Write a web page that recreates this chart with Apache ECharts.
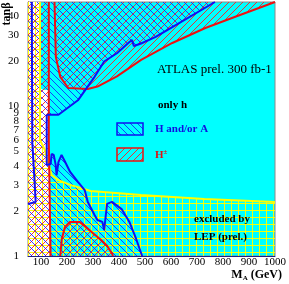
<!DOCTYPE html>
<html><head><meta charset="utf-8">
<script src="https://cdn.jsdelivr.net/npm/echarts@6/dist/echarts.min.js"></script>
<style>html,body{margin:0;padding:0;background:#fff}#c{width:289px;height:284px}</style>
</head><body><div id="c"></div>
<script>
// ---- axis ticks ----
const M_TICKS = [100, 200, 300, 400, 500, 600, 700, 800, 900, 1000];
const TANB_TICKS = [1, 2, 3, 4, 5, 6, 7, 8, 9, 10, 20, 30, 40];

// ---- boundaries [M_A (GeV), tan beta] ----
const haUpper = [[122,8.8],[167,8.8],[242,11.0],[306,15.8],[343,20.0],[392,22.7],[440,27.0],[450,27.8],[457,25.4],[485,26.4],[541,29.2],[605,34.0],[769,50]];
const haLower = [[122,4.06],[137,4.12],[141,4.81],[149,4.74],[156,4.12],[160,3.48],[167,4.25],[179,4.74],[193,4.25],[212,3.65],[242,3.13],[268,2.76],[280,2.30],[306,1.88],[317,1.74],[336,1.69],[343,1.49],[347,1.49],[354,2.23],[373,2.30],[410,2.06],[440,1.69],[466,1.30],[489,1]];
const haLeftLine = [[64.6,50],[66.4,5.79],[73.9,3.48],[79.5,2.30],[50,2.23]];
const hpUpper = [[152,50],[157,21.5],[174,15.8],[205,13.3],[280,13.1],[317,13.6],[392,15.9],[485,20.5],[605,26.6],[732,33.5],[855,40.3],[1000,50]];
const hpLeftLine = [[130,50],[130,6.0],[137,1]];
const hpDome = [[174,1],[180,1.3],[192,1.56],[211,1.69],[249,1.69],[273,1.56],[298,1.43],[329,1.29],[354,1.17],[373,1.04],[377,1]];
const lepCurve = [[96,50],[96,5.97],[115,5.12],[130,4.06],[141,3.48],[167,3.22],[212,2.99],[291,2.72],[485,2.56],[728,2.41],[1000,2.30]];
const lowMassBand = [[50,50],[96,50],[96,13.3],[108,12.9],[130,12.9],[134,2.37],[137,1],[50,1]];

const X_MIN = 50, X_MAX = 1000, T_MIN = 1, T_MAX = 50;

function hatch(kind, color, size) {
  const c = document.createElement('canvas');
  c.width = size; c.height = size;
  const g = c.getContext('2d');
  g.strokeStyle = color; g.lineWidth = 1;
  g.beginPath();
  if (kind === 'back') {
    for (let k = -1; k <= 1; k++) { g.moveTo(k*size - 1, -1); g.lineTo(k*size + size + 1, size + 1); }
  } else if (kind === 'fwd') {
    for (let k = -1; k <= 1; k++) { g.moveTo(k*size - 1, size + 1); g.lineTo(k*size + size + 1, -1); }
  } else {
    g.moveTo(0.5, 0); g.lineTo(0.5, size);
    g.moveTo(0, 0.5); g.lineTo(size, 0.5);
  }
  g.stroke();
  return c;
}
const pat = c => ({ image: c, repeat: 'repeat' });
const blueC = hatch('back', 'rgba(20,20,255,0.8)', 7);
const redC = hatch('fwd', 'rgba(255,30,30,0.9)', 7);
const yelC = hatch('grid', 'rgba(255,255,0,0.95)', 7);

const toLog = p => [p[0], Math.log10(p[1])];

function polys(list, fillFn) {
  const Ps = list.map(pts => pts.map(toLog));
  return {
    type: 'custom', coordinateSystem: 'cartesian2d', silent: true, animation: false, clip: false,
    data: [[300, 1]],
    renderItem: (params, api) => ({
      type: 'group',
      children: Ps.map(P => ({
        type: 'polygon',
        shape: { points: P.map(p => api.coord(p)) },
        style: { fill: fillFn(), stroke: null }
      }))
    })
  };
}
function line(pts, color, width) {
  return {
    type: 'line', data: pts.map(toLog), symbol: 'none', showSymbol: false, silent: true,
    animation: false, lineStyle: { color: color, width: width }
  };
}

const haPolygon = [[X_MIN, T_MAX]].concat(haUpper.slice().reverse(), haLower, [[X_MIN, T_MIN]]);
const hpLeftPolygon = [[X_MIN, T_MAX]].concat(hpLeftLine, [[X_MIN, T_MIN]]);
const lepPolygon = [[X_MIN, T_MAX]].concat(lepCurve, [[X_MAX, T_MIN], [X_MIN, T_MIN]]);

const SERIF = '"Liberation Serif","DejaVu Serif",serif';
const BLUE = '#1010f0', RED = '#ee1010', YEL = '#ffff00';

const chart = echarts.init(document.getElementById('c'), null, { renderer: 'canvas' });
chart.setOption({
  animation: false,
  backgroundColor: '#ffffff',
  grid: { left: 28, right: 6, top: 2, bottom: 28, show: true, backgroundColor: '#00ffff', borderColor: '#8a8a8a', borderWidth: 1 },
  xAxis: {
    type: 'value', min: X_MIN, max: X_MAX,
    axisLine: { show: true, lineStyle: { color: '#202080', width: 1 } },
    axisTick: { show: false },
    splitLine: { show: false },
    axisLabel: { customValues: M_TICKS, formatter: v => String(v), margin: 1, color: '#000', fontFamily: SERIF, fontSize: 11 }
  },
  yAxis: {
    type: 'value', min: 0, max: Math.log10(T_MAX),
    axisLine: { show: true, lineStyle: { color: '#c00000', width: 1 } },
    axisTick: { show: false },
    splitLine: { show: false },
    axisLabel: {
      customValues: TANB_TICKS.map(v => Math.log10(v)),
      formatter: v => String(Math.round(Math.pow(10, v))),
      margin: 9, color: '#000', fontFamily: SERIF, fontSize: 11
    }
  },
  series: [
    polys([lowMassBand], () => '#ffffff'),
    polys([lepPolygon], () => pat(yelC)),
    polys([hpLeftPolygon, hpUpper, hpDome], () => pat(redC)),
    polys([haPolygon], () => pat(blueC)),
    line(lepCurve, YEL, 2),
    line(hpLeftLine, RED, 2),
    line(hpUpper, RED, 2),
    line(hpDome, RED, 2),
    line(haLeftLine, BLUE, 2),
    line(haUpper, BLUE, 2),
    line([haUpper[0], haLower[0]], BLUE, 2),
    line(haLower, BLUE, 2)
  ],
  graphic: [
    { type: 'text', x: 157, y: 70, z: 100, style: { text: 'ATLAS prel. 300 fb-1', font: '13px ' + SERIF, fill: '#000', verticalAlign: 'middle' } },
    { type: 'text', x: 158, y: 105, z: 100, style: { text: 'only h', font: 'bold 11px ' + SERIF, fill: '#000', verticalAlign: 'middle' } },
    { type: 'rect', z: 100, shape: { x: 117, y: 123, width: 26, height: 12 }, style: { fill: pat(blueC), stroke: BLUE, lineWidth: 1.5 } },
    { type: 'text', x: 155, y: 129, z: 100, style: { text: 'H and/or A', font: 'bold 11px ' + SERIF, fill: '#1010e0', verticalAlign: 'middle' } },
    { type: 'rect', z: 100, shape: { x: 117, y: 148, width: 26, height: 13 }, style: { fill: pat(redC), stroke: RED, lineWidth: 1.5 } },
    { type: 'text', x: 155, y: 155, z: 100, style: { text: '{a|H}{b|±}', verticalAlign: 'middle', rich: { a: { font: 'bold 11px ' + SERIF, fill: '#e01010' }, b: { font: 'bold 7px ' + SERIF, fill: '#e01010', verticalAlign: 'top', padding: [0,0,6,0] } } } },
    { type: 'text', x: 194, y: 219, z: 100, style: { text: 'excluded by', font: 'bold 11px ' + SERIF, fill: '#000', verticalAlign: 'middle' } },
    { type: 'text', x: 194, y: 237.5, z: 100, style: { text: 'LEP (prel.)', font: 'bold 11px ' + SERIF, fill: '#000', verticalAlign: 'middle' } },
    { type: 'text', x: 282, y: 275, z: 100, style: { text: '{a|M}{b|A}{a| (GeV)}', align: 'right', verticalAlign: 'middle', rich: { a: { font: 'bold 12px ' + SERIF, fill: '#000' }, b: { font: 'bold 7px ' + SERIF, fill: '#000', padding: [6,0,0,0] } } } },
    { type: 'text', x: 7, y: 14, z: 100, rotation: Math.PI / 2, style: { text: 'tanβ', font: 'bold 12px ' + SERIF, fill: '#000', align: 'center', verticalAlign: 'middle' } }
  ]
});
</script></body></html>
